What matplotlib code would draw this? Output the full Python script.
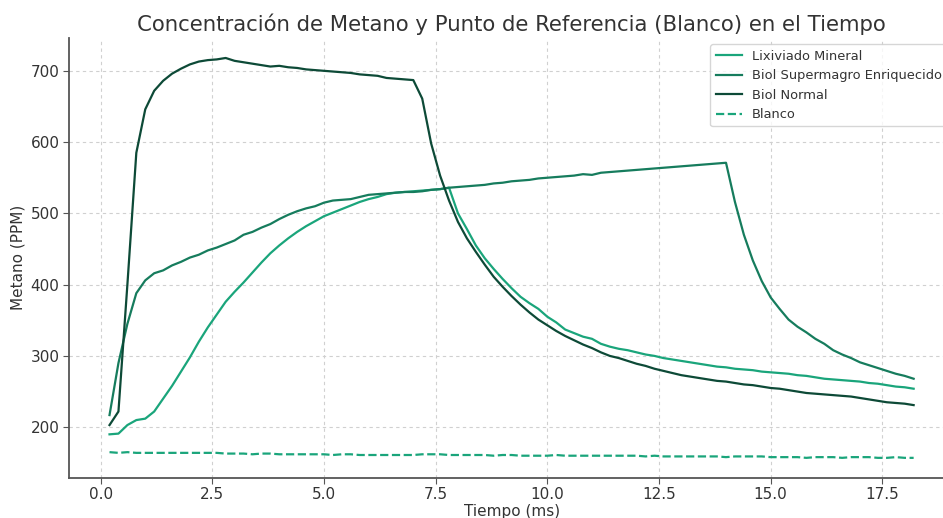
import matplotlib.pyplot as plt
import numpy as np

# tiempo (ms), paso de 0.2
tiempo = np.round(np.arange(0.2, 18.21, 0.2), 1)

lixiviado = [190, 191, 203, 210, 212, 222, 240, 258, 278, 298,
             320, 340, 358, 376, 390, 403, 417, 431, 444, 455,
             465, 474, 482, 489, 496, 501, 506, 511, 516, 520,
             523, 527, 529, 530, 531, 532, 533, 534, 536, 500,
             478, 455, 437, 422, 408, 395, 383, 374, 366, 355,
             347, 337, 332, 327, 324, 317, 313, 310, 308, 305,
             302, 300, 297, 295, 293, 291, 289, 287, 285, 284,
             282, 281, 280, 278, 277, 276, 275, 273, 272, 270,
             268, 267, 266, 265, 264, 262, 261, 259, 257, 256,
             254]

supermagro = [217, 290, 345, 388, 406, 416, 420, 427, 432, 438,
              442, 448, 452, 457, 462, 470, 474, 480, 485, 492,
              498, 503, 507, 510, 515, 518, 519, 520, 523, 526,
              527, 528, 529, 530, 530, 531, 533, 534, 536, 537,
              538, 539, 540, 542, 543, 545, 546, 547, 549, 550,
              551, 552, 553, 555, 554, 557, 558, 559, 560, 561,
              562, 563, 564, 565, 566, 567, 568, 569, 570, 571,
              516, 470, 434, 405, 382, 366, 351, 341, 333, 324,
              317, 308, 302, 297, 291, 287, 283, 279, 275, 272,
              268]

normal = [203, 222, 400, 585, 646, 672, 686, 696, 703, 709,
          713, 715, 716, 718, 714, 712, 710, 708, 706, 707,
          705, 704, 702, 701, 700, 699, 698, 697, 695, 694,
          693, 690, 689, 688, 687, 661, 598, 553, 518, 488,
          465, 446, 428, 411, 397, 384, 372, 361, 351, 343,
          335, 328, 322, 316, 311, 305, 300, 297, 293, 289,
          286, 282, 279, 276, 273, 271, 269, 267, 265, 264,
          262, 260, 259, 257, 255, 254, 252, 250, 248, 247,
          246, 245, 244, 243, 241, 239, 237, 235, 234, 233,
          231]

blanco = [165, 164, 165, 164, 164, 164, 164, 164, 164, 164,
          164, 164, 164, 163, 163, 163, 162, 163, 163, 162,
          162, 162, 162, 162, 162, 161, 162, 162, 161, 161,
          161, 161, 161, 161, 161, 162, 162, 162, 161, 161,
          161, 161, 161, 160, 161, 161, 160, 160, 160, 160,
          161, 160, 160, 160, 160, 160, 160, 160, 160, 160,
          159, 160, 159, 159, 159, 159, 159, 159, 159, 158,
          159, 159, 159, 159, 158, 158, 158, 158, 157, 158,
          158, 158, 157, 158, 158, 158, 157, 157, 158, 157,
          157]

c_lix = '#1aa57b'
c_sup = '#167c5d'
c_nor = '#0d4a37'
txt = '#333333'

fig = plt.figure(figsize=(9.43, 5.18), dpi=100)
ax = fig.add_axes([0.0735, 0.078, 0.938, 0.849])

ax.plot(tiempo, lixiviado, color=c_lix, lw=1.6, label='Lixiviado Mineral')
ax.plot(tiempo, supermagro, color=c_sup, lw=1.6, label='Biol Supermagro Enriquecido')
ax.plot(tiempo, normal, color=c_nor, lw=1.6, label='Biol Normal')
ax.plot(tiempo, blanco, color=c_lix, lw=1.6, ls='--', label='Blanco')

ax.set_xlim(-0.7, 19.1)
ax.set_ylim(129.3, 746.3)
ax.set_xticks([0, 2.5, 5, 7.5, 10, 12.5, 15, 17.5])
ax.set_yticks([200, 300, 400, 500, 600, 700])

ax.grid(True, ls=(0, (3, 3)), color='#d0d0d0', lw=0.8)
ax.set_axisbelow(True)
for s in ['top', 'right']:
    ax.spines[s].set_visible(False)
for s in ['left', 'bottom']:
    ax.spines[s].set_color('#555555')
    ax.spines[s].set_linewidth(1.3)
ax.tick_params(colors='#555555', labelcolor=txt, labelsize=11, length=4, pad=3)

ax.set_title('Concentración de Metano y Punto de Referencia (Blanco) en el Tiempo',
             fontsize=15.3, color=txt, pad=5)
ax.set_xlabel('Tiempo (ms)', fontsize=11, color=txt, labelpad=1)
ax.set_ylabel('Metano (PPM)', fontsize=11, color=txt)

leg = ax.legend(loc='upper right', fontsize=9.4, frameon=True, borderaxespad=0.5)
for t in leg.get_texts():
    t.set_color(txt)

fig.savefig('out.png', dpi=100)
